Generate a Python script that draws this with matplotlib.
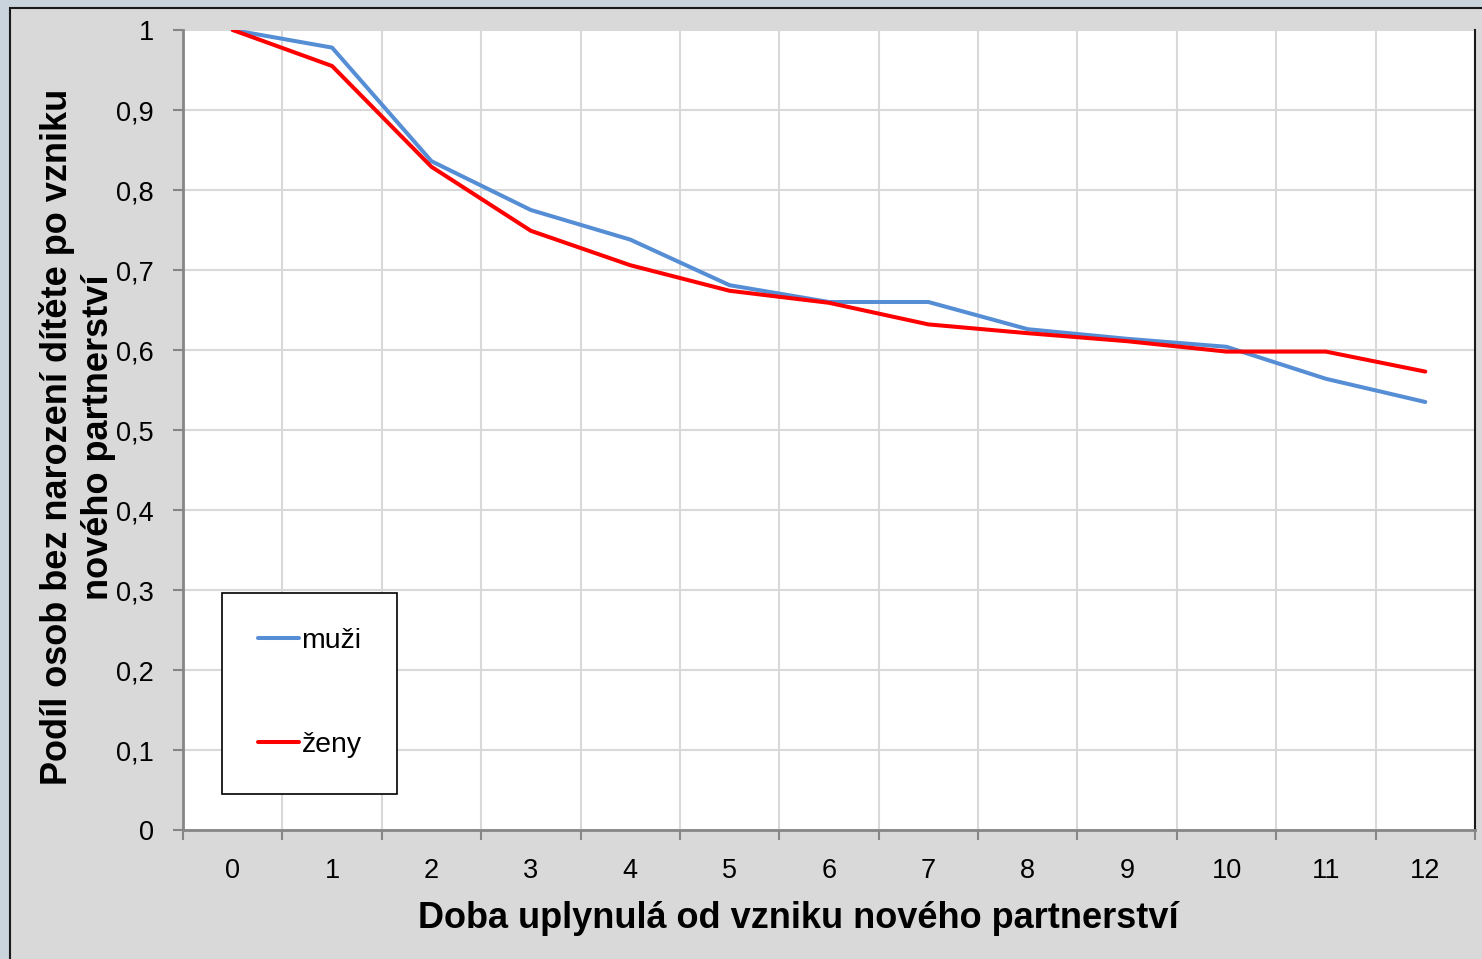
import numpy as np
import matplotlib.pyplot as plt
from matplotlib.patches import Rectangle

plt.rcParams['font.family'] = ['Liberation Sans', 'DejaVu Sans']

years = [0, 1, 2, 3, 4, 5, 6, 7, 8, 9, 10, 11, 12]
muzi = [1.0, 0.978, 0.836, 0.775, 0.738, 0.681, 0.660, 0.660, 0.626, 0.614, 0.604, 0.564, 0.535]
zeny = [1.0, 0.955, 0.829, 0.749, 0.706, 0.674, 0.659, 0.632, 0.621, 0.611, 0.598, 0.598, 0.573]
yticks = [0, 0.1, 0.2, 0.3, 0.4, 0.5, 0.6, 0.7, 0.8, 0.9, 1.0]
ytick_labels = ['0', '0,1', '0,2', '0,3', '0,4', '0,5', '0,6', '0,7', '0,8', '0,9', '1']

W, H = 1482, 959
fig = plt.figure(figsize=(W/100, H/100), dpi=100)
fig.patch.set_facecolor('#c9d4dc')
# chart area frame
fig.patches.append(Rectangle((10/W, -0.05), 1.2, (H-8)/H + 0.05, transform=fig.transFigure,
                             facecolor='#d9d9d9', edgecolor='#1a1a1a', linewidth=1.5, zorder=-10))

ax = fig.add_axes([183/W, (H-830)/H, 1292/W, 800/H])
ax.set_facecolor('white')

ax.plot(years, muzi, color='#558ed5', lw=2.9, label='muži', solid_capstyle='round', zorder=3)
ax.plot(years, zeny, color='#ff0000', lw=2.9, label='ženy', solid_capstyle='round', zorder=3)

ax.set_xlim(-0.5, 12.5)
ax.set_ylim(0, 1)
ax.set_yticks(yticks)
ax.set_yticklabels(ytick_labels)
ax.set_xticks(years)
ax.set_xticks(np.arange(-0.5, 13, 1), minor=True)
ax.tick_params(axis='x', which='major', length=0, pad=20, labelsize=19.5)
ax.tick_params(axis='x', which='minor', length=7, color='#868686', width=1.5)
ax.tick_params(axis='y', length=7, color='#868686', width=1.5, pad=14, labelsize=19.5)

ax.grid(axis='y', color='#d9d9d9', lw=1.5)
ax.grid(axis='x', which='minor', color='#d9d9d9', lw=1.5)
ax.set_axisbelow(True)

for s in ['left', 'bottom']:
    ax.spines[s].set_color('#868686')
    ax.spines[s].set_linewidth(2)
ax.spines['top'].set_visible(False)
ax.spines['right'].set_color('#1a1a1a')
ax.spines['right'].set_linewidth(1.5)

ax.set_xlabel('Doba uplynulá od vzniku nového partnerství', fontsize=26, fontweight='bold')
ax.xaxis.set_label_coords(0.476, -0.089)
ax.set_ylabel('Podíl osob bez narození dítěte po vzniku\nnového partnerství', fontsize=26,
              fontweight='bold', linespacing=1.25)
ax.yaxis.set_label_coords(-0.0515, 0.491)

leg = ax.legend(loc='lower left', bbox_to_anchor=(0.0302, 0.045), borderaxespad=0, fontsize=20.5,
                frameon=True, fancybox=False, edgecolor='black', framealpha=1,
                handlelength=1.44, handletextpad=0.1, labelspacing=2.75, borderpad=1.25)
leg.get_frame().set_linewidth(1.2)

fig.savefig('out.png', dpi=100, facecolor=fig.get_facecolor())
